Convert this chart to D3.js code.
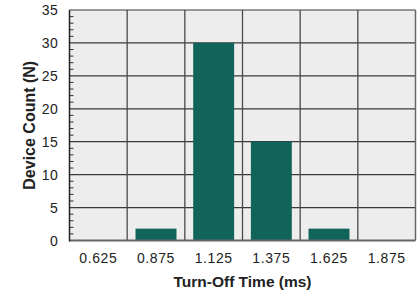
<!DOCTYPE html>
<html>
<head>
<meta charset="utf-8">
<script src="https://cdn.jsdelivr.net/npm/d3@7"></script>
<style>
  body { margin: 0; background: #fff; }
  text { font-family: "Liberation Sans", Arial, sans-serif; fill: #222; }
</style>
</head>
<body>
<div id="chart"></div>
<script>
// bin centres (ms) and counts per bin
const bins = ["0.625", "0.875", "1.125", "1.375", "1.625", "1.875"];
const counts = [0, 1.8, 30, 15, 1.8, 0];
const yTicks = [0, 5, 10, 15, 20, 25, 30, 35];

const W = 419, H = 292;
const margin = { left: 69.5, right: 3.5, top: 10, bottom: 51.5 };
const width = W - margin.left - margin.right;
const height = H - margin.top - margin.bottom;

const svg = d3.select("#chart")
  .append("svg")
    .attr("width", W)
    .attr("height", H)
  .append("g")
    .attr("transform", `translate(${margin.left},${margin.top})`);

// grid scale (bin edges) and bar scale share one range
const xGrid = d3.scaleBand().domain(bins).range([0, width]).padding(0);
const xBar = d3.scaleBand().domain(bins).range([0, width])
  .paddingInner(0.29).paddingOuter(0.145);
const y = d3.scaleLinear().domain([0, 35]).range([height, 0]);

// plot background
svg.append("rect")
  .attr("width", width)
  .attr("height", height)
  .attr("fill", "#ededed");

// horizontal grid
svg.selectAll(".hgrid")
  .data(yTicks.filter(d => d > 0 && d < 35))
  .enter().append("line")
    .attr("x1", 0).attr("x2", width)
    .attr("y1", d => y(d)).attr("y2", d => y(d))
    .attr("stroke", "#3a3a3a").attr("stroke-width", 1.2);

// bars
svg.selectAll(".bar")
  .data(bins.map((b, i) => ({ bin: b, n: counts[i] })))
  .enter().append("rect")
    .attr("x", d => xBar(d.bin))
    .attr("y", d => y(d.n))
    .attr("width", xBar.bandwidth())
    .attr("height", d => height - y(d.n))
    .attr("fill", "#10645a");

// vertical grid at bin edges
svg.selectAll(".vgrid")
  .data(bins.slice(1))
  .enter().append("line")
    .attr("x1", d => xGrid(d)).attr("x2", d => xGrid(d))
    .attr("y1", 0).attr("y2", height)
    .attr("stroke", "#4a4a4a").attr("stroke-width", 1.3);

// top and right border
svg.append("line")
  .attr("x1", 0).attr("x2", width).attr("y1", 0).attr("y2", 0)
  .attr("stroke", "#3a3a3a").attr("stroke-width", 1.2);
svg.append("line")
  .attr("x1", width).attr("x2", width).attr("y1", 0).attr("y2", height)
  .attr("stroke", "#666").attr("stroke-width", 1.5);

// minor ticks each unit
svg.selectAll(".minor")
  .data(d3.range(1, 35).filter(d => d % 5 !== 0))
  .enter().append("line")
    .attr("x1", 0).attr("x2", 4)
    .attr("y1", d => y(d)).attr("y2", d => y(d))
    .attr("stroke", "#333").attr("stroke-width", 1);

// bottom axis line
svg.append("line")
  .attr("x1", 0).attr("x2", width).attr("y1", height).attr("y2", height)
  .attr("stroke", "#666").attr("stroke-width", 2);

// left axis line
svg.append("line")
  .attr("x1", 0).attr("x2", 0).attr("y1", 0).attr("y2", height + 1)
  .attr("stroke", "#222").attr("stroke-width", 1.5);

// y tick labels
svg.selectAll(".ylab")
  .data(yTicks)
  .enter().append("text")
    .attr("x", -11)
    .attr("y", d => y(d))
    .attr("dy", "0.36em")
    .attr("text-anchor", "end")
    .style("font-size", "14px")
    .style("letter-spacing", "0.6px")
    .text(d => d);

// x tick labels
svg.selectAll(".xlab")
  .data(bins)
  .enter().append("text")
    .attr("x", d => xGrid(d) + xGrid.bandwidth() / 2)
    .attr("y", height + 22)
    .attr("text-anchor", "middle")
    .style("font-size", "14px")
    .style("letter-spacing", "0.6px")
    .text(d => d);

// axis titles
svg.append("text")
  .attr("x", xGrid("1.375"))
  .attr("y", height + 46.5)
  .attr("text-anchor", "middle")
  .style("font-size", "15.5px")
  .style("font-weight", "bold")
  .text("Turn-Off Time (ms)");

svg.append("text")
  .attr("transform", `translate(${-34.5},${height / 2}) rotate(-90)`)
  .attr("text-anchor", "middle")
  .style("font-size", "16px")
  .style("font-weight", "bold")
  .text("Device Count (N)");
</script>
</body>
</html>
